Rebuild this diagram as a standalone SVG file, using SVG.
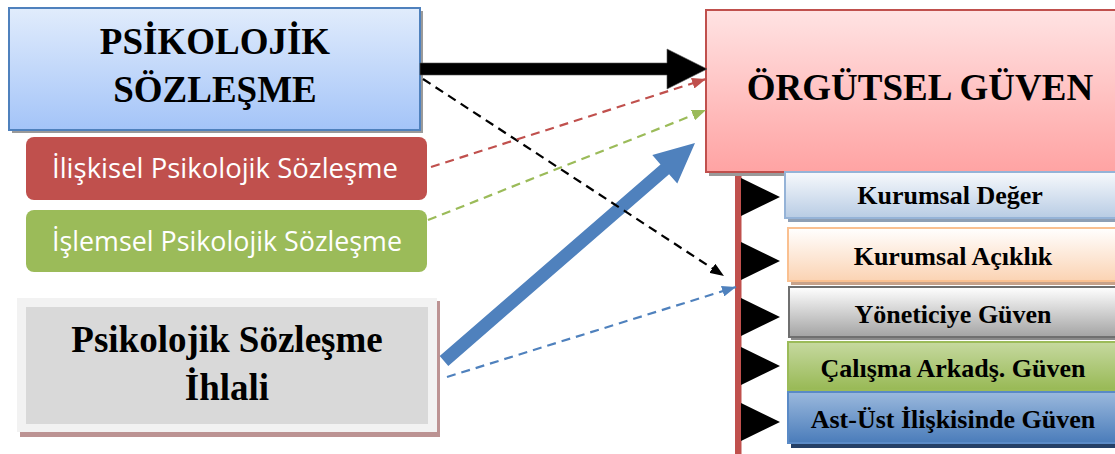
<svg xmlns="http://www.w3.org/2000/svg" width="1115" height="454" viewBox="0 0 1115 454">
  <style>
    .serif { font-family: "Liberation Serif", "Times New Roman", serif; font-weight: bold; fill: #000; text-anchor: middle; }
    .sans { font-family: "Open Sans", "Noto Sans", sans-serif; fill: #fff; text-anchor: middle; }
    .shadow { fill: #9a9a9a; }
    .dash { fill: none; stroke-width: 2.2; stroke-dasharray: 9 6; }
  </style>
  <defs>
    <linearGradient id="gBlue" x1="0" y1="0" x2="0" y2="1">
      <stop offset="0" stop-color="#e1ecfc"/>
      <stop offset="1" stop-color="#a4c4f8"/>
    </linearGradient>
    <linearGradient id="gPink" x1="0" y1="0" x2="0" y2="1">
      <stop offset="0" stop-color="#ffe3e3"/>
      <stop offset="1" stop-color="#ffa3a3"/>
    </linearGradient>
    <linearGradient id="gValue" x1="0" y1="0" x2="0" y2="1">
      <stop offset="0" stop-color="#f7f9fc"/>
      <stop offset="1" stop-color="#b8cce4"/>
    </linearGradient>
    <linearGradient id="gOpen" x1="0" y1="0" x2="0" y2="1">
      <stop offset="0" stop-color="#ffffff"/>
      <stop offset="1" stop-color="#fbd3b3"/>
    </linearGradient>
    <linearGradient id="gManager" x1="0" y1="0" x2="0" y2="1">
      <stop offset="0" stop-color="#ffffff"/>
      <stop offset="1" stop-color="#a3a3a3"/>
    </linearGradient>
    <linearGradient id="gCoworker" x1="0" y1="0" x2="0" y2="1">
      <stop offset="0" stop-color="#c6d9a0"/>
      <stop offset="1" stop-color="#98b955"/>
    </linearGradient>
    <linearGradient id="gSuperior" x1="0" y1="0" x2="0" y2="1">
      <stop offset="0" stop-color="#9bb9dd"/>
      <stop offset="1" stop-color="#4a7cba"/>
    </linearGradient>
    <marker id="headBlack" viewBox="0 0 14 11" refX="14" refY="5.5" markerWidth="14" markerHeight="11" markerUnits="userSpaceOnUse" orient="auto">
      <path d="M0,0 L14,5.5 L0,11 Z" fill="#000"/>
    </marker>
    <marker id="headRed" viewBox="0 0 14 11" refX="14" refY="5.5" markerWidth="14" markerHeight="11" markerUnits="userSpaceOnUse" orient="auto">
      <path d="M0,0 L14,5.5 L0,11 Z" fill="#c0504d"/>
    </marker>
    <marker id="headGreen" viewBox="0 0 14 11" refX="14" refY="5.5" markerWidth="14" markerHeight="11" markerUnits="userSpaceOnUse" orient="auto">
      <path d="M0,0 L14,5.5 L0,11 Z" fill="#9bbb59"/>
    </marker>
    <marker id="headBlue" viewBox="0 0 14 11" refX="14" refY="5.5" markerWidth="14" markerHeight="11" markerUnits="userSpaceOnUse" orient="auto">
      <path d="M0,0 L14,5.5 L0,11 Z" fill="#4f81bd"/>
    </marker>
  </defs>

  <rect width="1115" height="454" fill="#ffffff"/>

  <!-- vertical spine under the trust box -->
  <g id="spine">
    <rect x="735" y="168" width="6.5" height="290" fill="#c0504d"/>
    <path d="M741,178 L780,197 L741,216 Z M741,242 L780,261 L741,280 Z M741,298 L780,317 L741,336 Z M741,347 L780,366 L741,385 Z M741,403 L780,422 L741,441 Z" fill="#000"/>
  </g>

  <g id="psikolojik-sozlesme">
    <rect x="12" y="11" width="411" height="122" class="shadow"/>
    <rect x="9" y="8" width="411" height="122" fill="url(#gBlue)" stroke="#4f81bd" stroke-width="2"/>
    <text x="215" y="54" class="serif" font-size="37">PSİKOLOJİK</text>
    <text x="215" y="102" class="serif" font-size="37">SÖZLEŞME</text>
  </g>

  <g id="iliskisel">
    <rect x="26" y="137" width="401" height="63" rx="8" fill="#c0504d"/>
    <text x="225" y="178" class="sans" font-size="28" textLength="346" lengthAdjust="spacingAndGlyphs">İlişkisel Psikolojik Sözleşme</text>
  </g>

  <g id="islemsel">
    <rect x="26" y="210" width="401" height="62" rx="8" fill="#9bbb59"/>
    <text x="227" y="251" class="sans" font-size="28" textLength="350" lengthAdjust="spacingAndGlyphs">İşlemsel Psikolojik Sözleşme</text>
  </g>

  <g id="ihlal">
    <rect x="20" y="301" width="420" height="136" fill="#bc9393"/>
    <rect x="17" y="298" width="420" height="134" fill="#f2f2f2"/>
    <rect x="26" y="307" width="402" height="117" fill="#d9d9d9"/>
    <text x="227" y="352" class="serif" font-size="37">Psikolojik Sözleşme</text>
    <text x="227" y="400" class="serif" font-size="37">İhlali</text>
  </g>

  <g id="orgutsel-guven">
    <rect x="709" y="13" width="410" height="163" class="shadow"/>
    <rect x="706" y="10" width="410" height="162" fill="url(#gPink)" stroke="#c0504d" stroke-width="2"/>
    <text x="920" y="100" class="serif" font-size="37">ÖRGÜTSEL GÜVEN</text>
  </g>

  <g id="kurumsal-deger">
    <rect x="788" y="176" width="330" height="46" fill="#8e9fb5"/>
    <rect x="785" y="172" width="333" height="46" fill="url(#gValue)" stroke="#95b3d7" stroke-width="2"/>
    <text x="950" y="204" class="serif" font-size="26">Kurumsal Değer</text>
  </g>

  <g id="kurumsal-aciklik">
    <rect x="791" y="232" width="330" height="53" fill="#c7a28a"/>
    <rect x="788" y="228" width="330" height="53" fill="url(#gOpen)" stroke="#fac090" stroke-width="2"/>
    <text x="953" y="265" class="serif" font-size="26">Kurumsal Açıklık</text>
  </g>

  <g id="yoneticiye-guven">
    <rect x="791" y="290" width="330" height="50" fill="#8a8a8a"/>
    <rect x="789" y="287" width="330" height="50" fill="url(#gManager)" stroke="#6f6f6f" stroke-width="2"/>
    <text x="953" y="323" class="serif" font-size="26">Yöneticiye Güven</text>
  </g>

  <g id="calisma-arkadasi">
    <rect x="791" y="345" width="330" height="48" fill="#7f9a48"/>
    <rect x="788" y="342" width="330" height="48" fill="url(#gCoworker)" stroke="#9bbb59" stroke-width="2"/>
    <text x="953" y="377" class="serif" font-size="26">Çalışma Arkadş. Güven</text>
  </g>

  <g id="ast-ust">
    <rect x="791" y="396" width="330" height="52" fill="#243f66"/>
    <rect x="788" y="392" width="330" height="51" fill="url(#gSuperior)" stroke="#5a8ac6" stroke-width="2"/>
    <text x="953" y="428" class="serif" font-size="26">Ast-Üst İlişkisinde Güven</text>
  </g>

  <g id="connectors">
    <!-- thick main arrow -->
    <path d="M420,63 L667,63 L667,49 L707,69 L667,89 L667,75 L420,75 Z" fill="#000" stroke="#555" stroke-width="0.6"/>
    <!-- thick breach arrow -->
    <path d="M439.7,356.1 L660.5,164.4 L652.3,155 L695,143 L677.3,183.6 L669.1,174.2 L448.3,365.9 Z" fill="#4f81bd"/>
    <!-- dashed influences -->
    <line x1="423" y1="79" x2="724" y2="276" class="dash" stroke="#000" marker-end="url(#headBlack)"/>
    <line x1="431" y1="167" x2="706" y2="79" class="dash" stroke="#c0504d" marker-end="url(#headRed)"/>
    <line x1="428" y1="220" x2="706" y2="110" class="dash" stroke="#9bbb59" marker-end="url(#headGreen)"/>
    <line x1="447" y1="377" x2="736" y2="287" class="dash" stroke="#4f81bd" marker-end="url(#headBlue)"/>
  </g>
</svg>
